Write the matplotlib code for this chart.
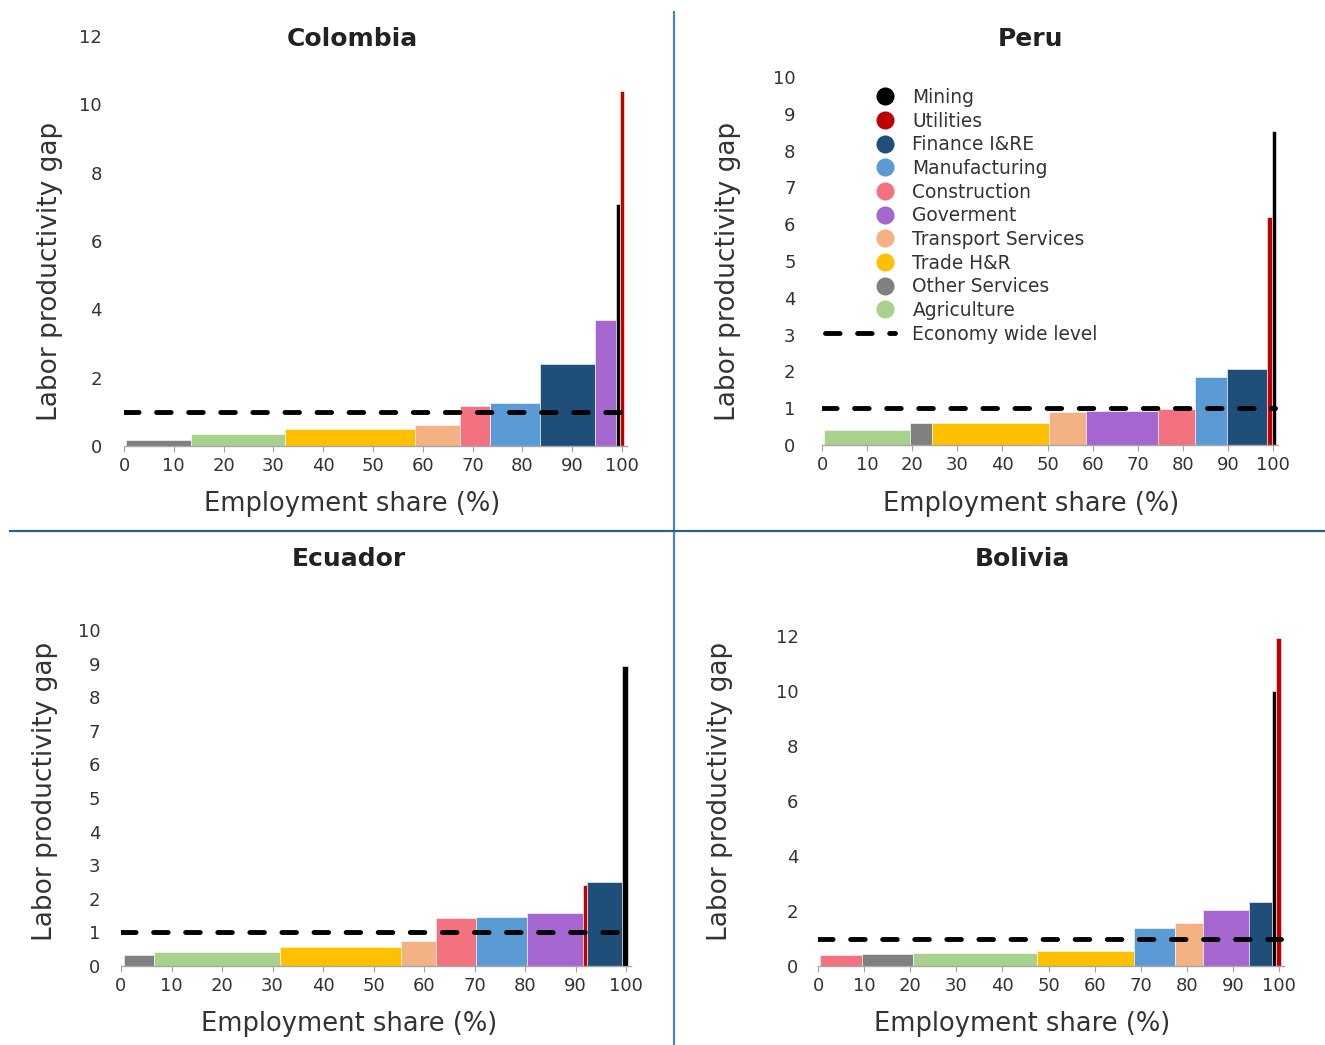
import matplotlib
matplotlib.use("Agg")
import matplotlib.pyplot as plt
import numpy as np
from matplotlib.lines import Line2D
from matplotlib.legend_handler import HandlerLine2D

plt.rcParams["font.family"] = ["DejaVu Sans"]

# ─── Data: employment share (%) and labor productivity gap per sector ─────────

sector_names = [
    "Mining", "Utilities", "Finance I&RE", "Manufacturing", "Construction",
    "Goverment", "Transport Services", "Trade H&R", "Other Services", "Agriculture",
]
sector_colors = [
    "#000000", "#c00000", "#1f4e79", "#5b9bd5", "#f4717f",
    "#a566d0", "#f4b183", "#ffc000", "#808080", "#a9d18e",
]

colombia_sectors = ["Other Services", "Agriculture", "Trade H&R", "Transport Services",
                    "Construction", "Manufacturing", "Finance I&RE", "Goverment",
                    "Mining", "Utilities"]
colombia_share = [12.9, 19.0, 26.1, 9.0, 6.0, 10.0, 11.0, 4.3, 0.7, 1.0]
colombia_gap = [0.18, 0.35, 0.50, 0.62, 1.16, 1.25, 2.41, 3.68, 7.08, 10.38]

peru_sectors = ["Agriculture", "Other Services", "Trade H&R", "Transport Services",
                "Goverment", "Construction", "Manufacturing", "Finance I&RE",
                "Utilities", "Mining"]
peru_share = [19.0, 4.9, 26.0, 8.1, 16.1, 8.0, 7.1, 8.9, 1.1, 0.9]
peru_gap = [0.42, 0.59, 0.61, 0.89, 0.92, 0.99, 1.86, 2.07, 6.20, 8.53]

ecuador_sectors = ["Other Services", "Agriculture", "Trade H&R", "Transport Services",
                   "Construction", "Manufacturing", "Goverment", "Utilities",
                   "Finance I&RE", "Mining"]
ecuador_share = [6.0, 25.0, 23.9, 7.0, 7.9, 10.1, 11.0, 0.9, 7.0, 1.0]
ecuador_gap = [0.32, 0.43, 0.56, 0.75, 1.44, 1.46, 1.57, 2.41, 2.49, 8.93]

bolivia_sectors = ["Construction", "Other Services", "Agriculture", "Trade H&R",
                   "Manufacturing", "Transport Services", "Goverment", "Finance I&RE",
                   "Mining", "Utilities"]
bolivia_share = [9.1, 10.9, 27.0, 21.1, 8.9, 6.0, 10.0, 5.0, 0.9, 1.1]
bolivia_gap = [0.39, 0.45, 0.47, 0.53, 1.37, 1.58, 2.02, 2.34, 10.00, 11.94]

economy_level = 1.0

# ─── Layout (pixels on a 1325 x 1045 canvas) ──────────────────────────────────

W, H = 1325, 1045
TEXT = "#333333"
AXIS_GREY = "#a6a6a6"

panels = [
    dict(name="Colombia", sectors=colombia_sectors, share=colombia_share, gap=colombia_gap,
         x0=124, x100=622, y0=446, ytop=36, ymax=12, ystep=2, ypad=16,
         cx=352, title_y=39, xlab_y=504, ylab_x=50, ylab_y=271),
    dict(name="Peru", sectors=peru_sectors, share=peru_share, gap=peru_gap,
         x0=822, x100=1273, y0=445, ytop=77, ymax=10, ystep=1, ypad=19,
         cx=1031, title_y=39, xlab_y=504, ylab_x=728, ylab_y=271),
    dict(name="Ecuador", sectors=ecuador_sectors, share=ecuador_share, gap=ecuador_gap,
         x0=121, x100=626, y0=966, ytop=630, ymax=10, ystep=1, ypad=15,
         cx=349, title_y=559, xlab_y=1024, ylab_x=45, ylab_y=791),
    dict(name="Bolivia", sectors=bolivia_sectors, share=bolivia_share, gap=bolivia_gap,
         x0=818, x100=1279, y0=966, ytop=636, ymax=12, ystep=2, ypad=14,
         cx=1022, title_y=559, xlab_y=1024, ylab_x=720, ylab_y=791),
]

XMAX = 101
START = 0.5  # first bar begins just right of the origin

fig = plt.figure(figsize=(W / 100, H / 100), dpi=100)
color_of = dict(zip(sector_names, sector_colors))

for p in panels:
    unit = (p["x100"] - p["x0"]) / 100.0
    left = p["x0"] / W
    width = unit * XMAX / W
    bottom = 1 - p["y0"] / H
    height = (p["y0"] - p["ytop"]) / H
    ax = fig.add_axes([left, bottom, width, height])

    share = np.array(p["share"])
    lefts = START + np.concatenate([[0], np.cumsum(share)[:-1]])
    ax.bar(lefts, p["gap"], width=share, align="edge",
           color=[color_of[s] for s in p["sectors"]],
           edgecolor="white", linewidth=0.4, zorder=2)

    ax.plot([0, 100.5], [economy_level, economy_level], color="black", lw=3.5,
            dashes=(3.0, 3.6), dash_capstyle="round", zorder=3)

    ax.set_xlim(0, XMAX)
    ax.set_ylim(0, p["ymax"])
    ax.set_xticks(np.arange(0, 101, 10))
    ax.set_yticks(np.arange(0, p["ymax"] + 0.5, p["ystep"]))
    for side in ("top", "right", "left"):
        ax.spines[side].set_visible(False)
    ax.spines["bottom"].set_color(AXIS_GREY)
    ax.spines["bottom"].set_linewidth(1.0)
    ax.tick_params(axis="x", length=4, color=AXIS_GREY, labelsize=13,
                   labelcolor=TEXT, pad=4)
    ax.tick_params(axis="y", length=0, labelsize=13, labelcolor=TEXT, pad=p["ypad"])
    ax.patch.set_alpha(0)

    fig.text(p["cx"] / W, 1 - p["title_y"] / H, p["name"], ha="center", va="center",
             fontsize=18, fontweight="bold", color="#222222")
    fig.text(p["cx"] / W, 1 - p["xlab_y"] / H, "Employment share (%)", ha="center",
             va="center", fontsize=18.5, color=TEXT)
    fig.text(p["ylab_x"] / W, 1 - p["ylab_y"] / H, "Labor productivity gap", ha="center",
             va="center", rotation=90, fontsize=19, color=TEXT)


class RightMarkerHandler(HandlerLine2D):
    """Places the legend marker near the right end of the handle area."""

    def get_xdata(self, legend, xdescent, ydescent, width, height, fontsize):
        # the single marker is drawn at the midpoint of xdata
        right = -xdescent + width
        xdata = [right - fontsize, right]
        return xdata, [right - 0.5 * fontsize]


handles = [Line2D([], [], ls="none", marker="o", markersize=13, color=c,
                  markeredgewidth=0) for c in sector_colors]
handles.append(Line2D([], [], color="black", lw=3.5, dashes=(3.0, 3.6),
                      dash_capstyle="round"))
labels = sector_names + ["Economy wide level"]
handler_map = {h: RightMarkerHandler() for h in handles[:-1]}

leg = fig.legend(handles, labels, loc="upper left",
                 bbox_to_anchor=(825 / W, 1 - 88 / H), frameon=False,
                 fontsize=13.4, labelspacing=0.25, handlelength=3.75,
                 handletextpad=0.95, borderpad=0, borderaxespad=0,
                 handler_map=handler_map, labelcolor=TEXT)

# Quadrant dividers
fig.add_artist(Line2D([674 / W, 674 / W], [0, 1 - 12 / H], color="#4f86a8", lw=1.6))
fig.add_artist(Line2D([10 / W, 1], [1 - 531 / H, 1 - 531 / H], color="#2e5f7e", lw=1.6))

fig.savefig("out.png", dpi=100)
